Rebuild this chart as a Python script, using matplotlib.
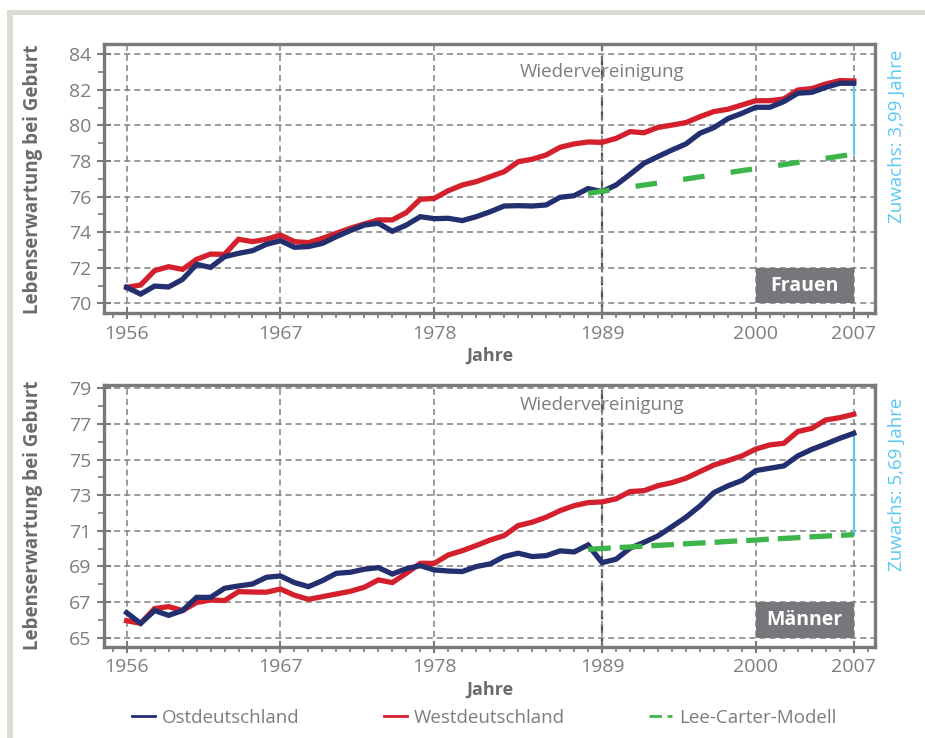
import matplotlib.pyplot as plt
import numpy as np
from matplotlib.patches import Rectangle
from matplotlib.lines import Line2D
from matplotlib.ticker import MultipleLocator

plt.rcParams['font.family'] = ['Open Sans', 'DejaVu Sans']

# x axis: one slot per year, labels as printed in the original
tick_pos = [0, 11, 22, 34, 45, 52]
tick_labels = ['1956', '1967', '1978', '1989', '2000', '2007']
wende_pos = 34
lc_start = 33

ost_frauen = [70.90, 70.52, 70.97, 70.92, 71.35, 72.19, 72.02, 72.62, 72.81, 72.96,
              73.32, 73.52, 73.15, 73.19, 73.37, 73.75, 74.09, 74.40, 74.50, 74.05,
              74.40, 74.87, 74.76, 74.78, 74.65, 74.87, 75.15, 75.47, 75.49, 75.47,
              75.53, 75.96, 76.05, 76.45, 76.28, 76.65, 77.25, 77.87, 78.25, 78.62,
              78.96, 79.56, 79.88, 80.38, 80.68, 81.02, 81.02, 81.34, 81.81, 81.86,
              82.14, 82.37, 82.37]
west_frauen = [70.90, 71.03, 71.84, 72.06, 71.91, 72.47, 72.77, 72.75, 73.60, 73.47,
               73.60, 73.84, 73.47, 73.41, 73.65, 73.94, 74.22, 74.46, 74.69, 74.69,
               75.10, 75.85, 75.90, 76.33, 76.65, 76.84, 77.12, 77.40, 77.96, 78.10,
               78.34, 78.77, 78.96, 79.07, 79.05, 79.27, 79.65, 79.59, 79.89, 80.02,
               80.16, 80.49, 80.78, 80.91, 81.15, 81.39, 81.39, 81.49, 81.99, 82.07,
               82.33, 82.52, 82.50]
lc_frauen = [76.18, 76.30, 76.41, 76.53, 76.65, 76.76, 76.88, 76.99, 77.11, 77.22,
             77.34, 77.46, 77.57, 77.69, 77.80, 77.92, 78.03, 78.15, 78.27, 78.38]

ost_maenner = [66.40, 65.80, 66.52, 66.25, 66.52, 67.26, 67.26, 67.77, 67.90, 68.01,
               68.39, 68.46, 68.09, 67.86, 68.20, 68.61, 68.67, 68.84, 68.93, 68.57,
               68.87, 69.04, 68.80, 68.74, 68.71, 68.99, 69.14, 69.55, 69.74, 69.55,
               69.60, 69.87, 69.81, 70.20, 69.21, 69.40, 70.02, 70.35, 70.71, 71.23,
               71.76, 72.39, 73.14, 73.52, 73.82, 74.38, 74.51, 74.64, 75.20, 75.57,
               75.87, 76.19, 76.47]
west_maenner = [65.95, 65.80, 66.63, 66.74, 66.52, 66.97, 67.11, 67.08, 67.58, 67.56,
                67.55, 67.73, 67.38, 67.15, 67.30, 67.45, 67.60, 67.83, 68.24, 68.09,
                68.61, 69.17, 69.17, 69.64, 69.88, 70.17, 70.48, 70.73, 71.29, 71.48,
                71.76, 72.13, 72.41, 72.58, 72.62, 72.79, 73.20, 73.25, 73.53, 73.70,
                73.95, 74.32, 74.69, 74.94, 75.20, 75.59, 75.82, 75.91, 76.57, 76.75,
                77.22, 77.35, 77.54]
lc_maenner = [69.96, 70.00, 70.05, 70.09, 70.14, 70.18, 70.22, 70.27, 70.31, 70.35,
              70.40, 70.44, 70.48, 70.53, 70.57, 70.61, 70.66, 70.70, 70.74, 70.78]

BLUE = '#232f6e'
RED = '#d3202c'
GREEN = '#3db54a'
CYAN = '#5cc8f2'
FRAME = '#7a7a7b'
TXT = '#7d7d7d'


def draw_panel(ax, ost, west, lc, ylim, yticks, label, wied_y, zuw_text, zuw_y, lc_dash):
    x = np.arange(len(ost))
    x_lc = np.arange(lc_start, lc_start + len(lc))

    ax.set_xlim(-1.62, 53.52)
    ax.set_ylim(*ylim)

    ax.set_xticks(tick_pos)
    ax.set_xticklabels(tick_labels)
    ax.xaxis.set_minor_locator(MultipleLocator(1))
    ax.set_yticks(yticks)
    ax.yaxis.set_minor_locator(MultipleLocator(1))

    for s in ax.spines.values():
        s.set_color(FRAME)
        s.set_linewidth(2.4)

    ax.tick_params(which='major', axis='x', direction='inout', length=8.6, width=1.5,
                   color=FRAME, labelcolor=TXT, labelsize=14, pad=4)
    ax.tick_params(which='minor', axis='x', direction='out', length=3.3, width=1.2, color=FRAME)
    ax.tick_params(which='major', axis='y', direction='inout', length=10, width=1.5,
                   color=FRAME, labelcolor=TXT, labelsize=14, pad=4)
    ax.tick_params(which='minor', axis='y', direction='out', length=4.3, width=1.2, color=FRAME)

    ax.grid(True, which='major', color='#808080', linestyle=(0, (4, 2.6)), linewidth=1.1)
    ax.axvline(wende_pos, color='#505050', linestyle=(0, (4, 2.2)), linewidth=1.6, zorder=1.5)

    # label box
    ax.add_patch(Rectangle((tick_pos[4], yticks[0]), tick_pos[5] - tick_pos[4], 2,
                           facecolor='#76777b', edgecolor='none', zorder=1.8))
    ax.text((tick_pos[4] + tick_pos[5]) / 2, yticks[0] + 1, label, color='white',
            fontsize=14, fontweight='bold', ha='center', va='center', zorder=2)

    ax.text(wende_pos, wied_y, 'Wiedervereinigung', color=TXT, fontsize=13.5,
            ha='center', va='center')

    ax.plot(x, west, color=RED, linewidth=3.8, solid_joinstyle='miter', zorder=3)
    ax.plot(x, ost, color=BLUE, linewidth=3.8, solid_joinstyle='miter', zorder=3.2)
    ax.plot([x[-1], x[-1]], [lc[-1], ost[-1]], color=CYAN, linewidth=1.6, zorder=3.1)
    ax.plot(x_lc, lc, color=GREEN, linewidth=3.8, linestyle=(0, lc_dash), zorder=3.4)

    ax.text(55.1, zuw_y, zuw_text, color=CYAN, fontsize=13.5, rotation=90,
            ha='center', va='center', clip_on=False)

    ax.set_ylabel('Lebenserwartung bei Geburt', color='#6b6b6b', fontsize=13.5,
                  fontweight='bold')
    ax.yaxis.set_label_coords(-0.079, 0.5)
    ax.set_xlabel('Jahre', color='#6b6b6b', fontsize=13, fontweight='bold', va='top')


fig = plt.figure(figsize=(9.25, 7.38), dpi=100)

# light frame around the graphic
fig.patches.append(Rectangle((7 / 925, 0), 6 / 925, 1 - 10 / 738, transform=fig.transFigure,
                             facecolor='#dcdcd5', edgecolor='none', zorder=0))
fig.patches.append(Rectangle((7 / 925, 1 - 15 / 738), 1, 5 / 738, transform=fig.transFigure,
                             facecolor='#dcdcd5', edgecolor='none', zorder=0))

ax1 = fig.add_axes([104 / 925, 1 - 313.3 / 738, 771 / 925, 269 / 738])
ax2 = fig.add_axes([104 / 925, 1 - 646.7 / 738, 771 / 925, 262 / 738])

draw_panel(ax1, ost_frauen, west_frauen, lc_frauen, (69.44, 84.56),
           [70, 72, 74, 76, 78, 80, 82, 84], 'Frauen', 83.02,
           'Zuwachs: 3,99 Jahre', 79.41, (4.1, 5.0))
ax1.xaxis.set_label_coords(0.5, -0.125)

draw_panel(ax2, ost_maenner, west_maenner, lc_maenner, (64.49, 79.2),
           [65, 67, 69, 71, 73, 75, 77, 79], 'Männer', 78.06,
           'Zuwachs: 5,69 Jahre', 73.63, (4.3, 1.7))
ax2.xaxis.set_label_coords(0.5, -0.131)

handles = [Line2D([], [], color=BLUE, linewidth=2),
           Line2D([], [], color=RED, linewidth=2),
           Line2D([], [], color=GREEN, linewidth=2, linestyle=(0, (4.5, 2)))]
fig.legend(handles, ['Ostdeutschland', 'Westdeutschland', 'Lee-Carter-Modell'],
           loc='center', bbox_to_anchor=(484 / 925, 1 - 718 / 738), ncol=3, frameon=False,
           fontsize=13.5, labelcolor=TXT, handlelength=1.25, handletextpad=0.35,
           columnspacing=4.5, borderpad=0)

fig.savefig('out.png', dpi=100)
